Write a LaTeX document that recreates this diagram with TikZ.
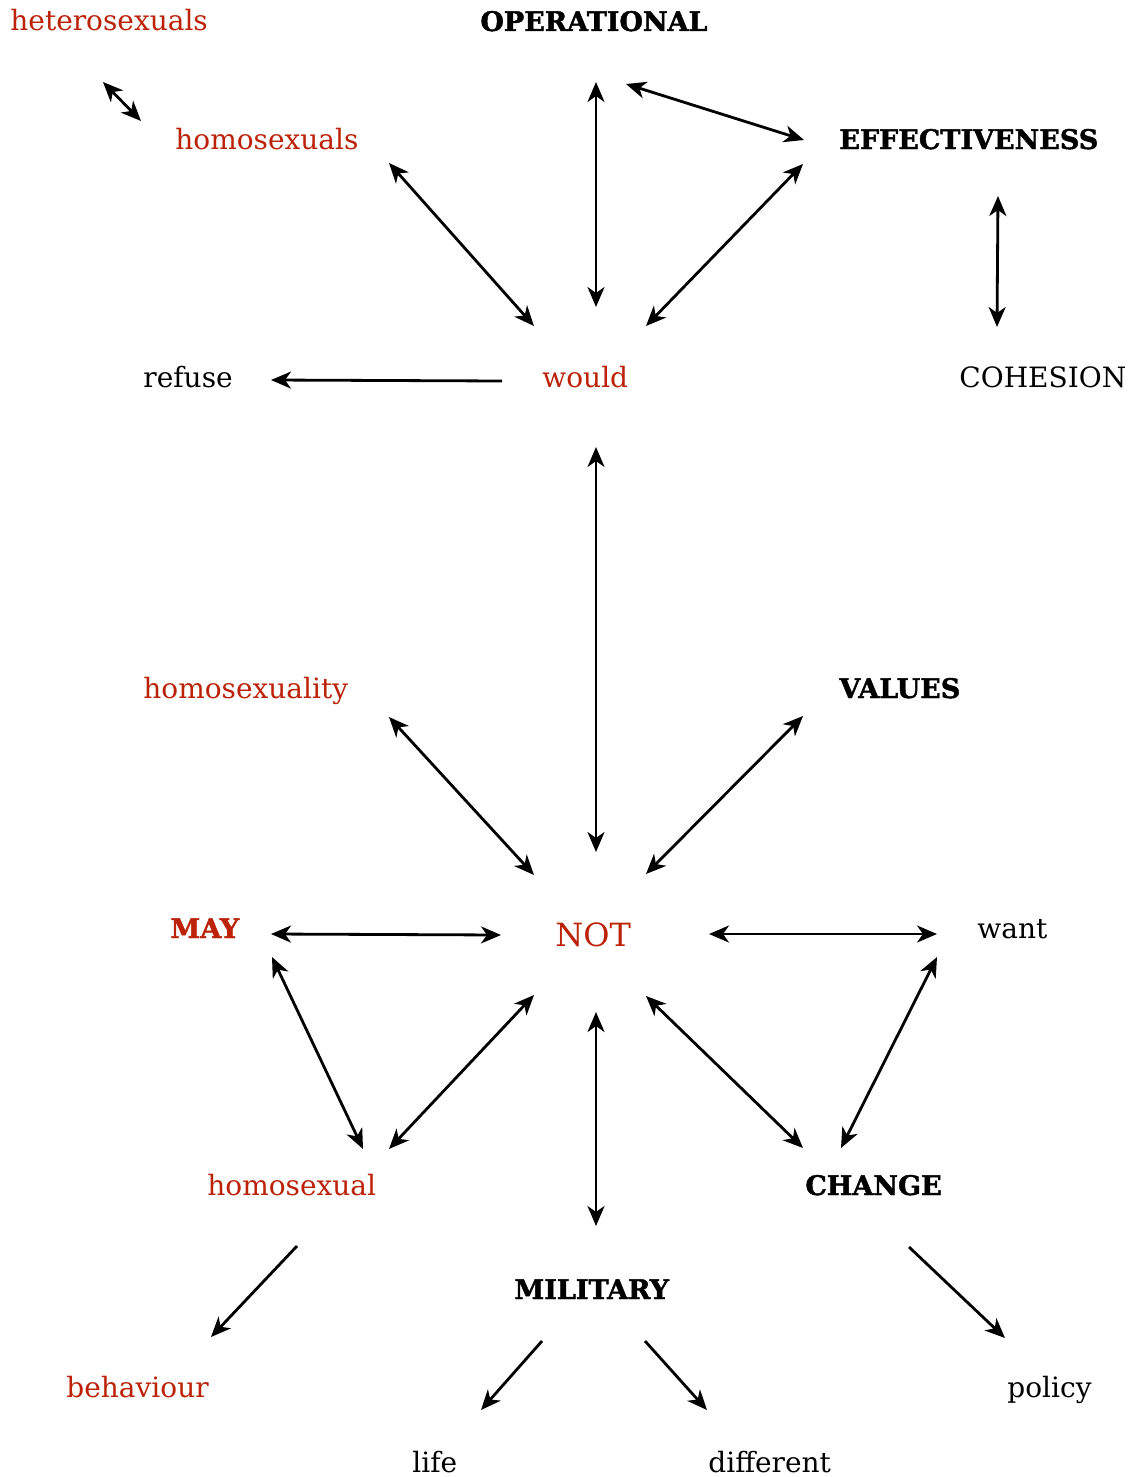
\documentclass[tikz,border=0pt]{standalone}
\usepackage{fontspec}
\setmainfont{DejaVu Serif}
\newfontfamily\heavyfont[BoldFeatures={FakeBold=1.6}]{DejaVu Serif}
\usetikzlibrary{arrows.meta}
\definecolor{wordred}{RGB}{187,34,8}
\tikzset{
  word/.style={inner sep=0pt, anchor=base west, font=\fontsize{14}{16}\selectfont},
  redword/.style={word, text=wordred},
  boldword/.style={word, font=\fontsize{13.5}{16}\selectfont\heavyfont\bfseries},
  link/.style={line width=1.4pt, {Stealth[length=10pt,width=8.5pt,inset=3pt]}-{Stealth[length=10pt,width=8.5pt,inset=3pt]}},
  oneway/.style={line width=1.4pt, -{Stealth[length=10pt,width=8.5pt,inset=3pt]}}
}
\begin{document}
\begin{tikzpicture}[x=0.5pt, y=-0.5pt]
\useasboundingbox (0,0) rectangle (1133,1477);
% words
\node[redword]  (hetero)  at (10,31)    {heterosexuals};
\node[boldword] (oper)    at (480,31)   {OPERATIONAL};
\node[redword]  (homos)   at (175,149)  {homosexuals};
\node[boldword] (effect)  at (839,149)  {EFFECTIVENESS};
\node[word]     (refuse)  at (143,387)  {refuse};
\node[redword]  (would)   at (542,387)  {would};
\node[word]     (cohes)   at (959,387)  {COHESION};
\node[redword]  (homty)   at (143,698)  {homosexuality};
\node[boldword] (values)  at (839,698)  {VALUES};
\node[boldword, text=wordred] (may) at (170,938) {MAY};
\node[redword, font=\fontsize{16}{19}\selectfont] (nott) at (555,946) {NOT};
\node[word]     (want)    at (977,938)  {want};
\node[redword]  (homal)   at (207,1195) {homosexual};
\node[boldword] (change)  at (805,1195) {CHANGE};
\node[boldword] (milit)   at (514,1299) {MILITARY};
\node[redword]  (behav)   at (66,1397)  {behaviour};
\node[word]     (policy)  at (1007,1397){policy};
\node[word]     (life)    at (412,1472) {life};
\node[word]     (diff)    at (708,1472) {different};
% connector ends
\coordinate (heteroA) at (103,82);   \coordinate (homosA) at (141,121);
\coordinate (operS)   at (596,82);   \coordinate (wouldN) at (596,307);
\coordinate (operE)   at (626,84);   \coordinate (effectW) at (804,140);
\coordinate (homosSE) at (389,163);  \coordinate (wouldNW) at (534,326);
\coordinate (effectSW) at (803,164); \coordinate (wouldNE) at (646,326);
\coordinate (effectS) at (998,196);  \coordinate (cohesN) at (997,327);
\coordinate (wouldW)  at (502,381);  \coordinate (refuseE) at (271,380);
\coordinate (wouldS)  at (596,447);  \coordinate (notN) at (596,852);
\coordinate (homtySE) at (389,717);  \coordinate (notNW) at (534,875);
\coordinate (valuesSW) at (803,716); \coordinate (notNE) at (646,874);
\coordinate (mayE)    at (271,934);  \coordinate (notW) at (501,935);
\coordinate (notE)    at (709,934);  \coordinate (wantW) at (937,934);
\coordinate (mayS)    at (272,957);  \coordinate (homalN) at (363,1149);
\coordinate (notSW)   at (534,995);  \coordinate (homalNE) at (389,1149);
\coordinate (notS)    at (596,1012); \coordinate (militN) at (596,1226);
\coordinate (notSE)   at (646,996);  \coordinate (changeNW) at (803,1148);
\coordinate (wantS)   at (937,957);  \coordinate (changeN) at (841,1148);
\coordinate (homalS)  at (297,1246); \coordinate (behavN) at (211,1337);
\coordinate (changeSE) at (909,1247);\coordinate (policyN) at (1005,1338);
\coordinate (militSW) at (542,1341); \coordinate (lifeN) at (481,1410);
\coordinate (militSE) at (645,1341); \coordinate (diffN) at (707,1410);
% connectors
\draw[link] (heteroA) -- (homosA);
\draw[link] (operS) -- (wouldN);
\draw[link] (operE) -- (effectW);
\draw[link] (homosSE) -- (wouldNW);
\draw[link] (effectSW) -- (wouldNE);
\draw[link] (effectS) -- (cohesN);
\draw[oneway] (wouldW) -- (refuseE);
\draw[link] (wouldS) -- (notN);
\draw[link] (homtySE) -- (notNW);
\draw[link] (valuesSW) -- (notNE);
\draw[link] (mayE) -- (notW);
\draw[link] (notE) -- (wantW);
\draw[link] (mayS) -- (homalN);
\draw[link] (notSW) -- (homalNE);
\draw[link] (notS) -- (militN);
\draw[link] (notSE) -- (changeNW);
\draw[link] (wantS) -- (changeN);
\draw[oneway] (homalS) -- (behavN);
\draw[oneway] (changeSE) -- (policyN);
\draw[oneway] (militSW) -- (lifeN);
\draw[oneway] (militSE) -- (diffN);
\end{tikzpicture}
\end{document}
